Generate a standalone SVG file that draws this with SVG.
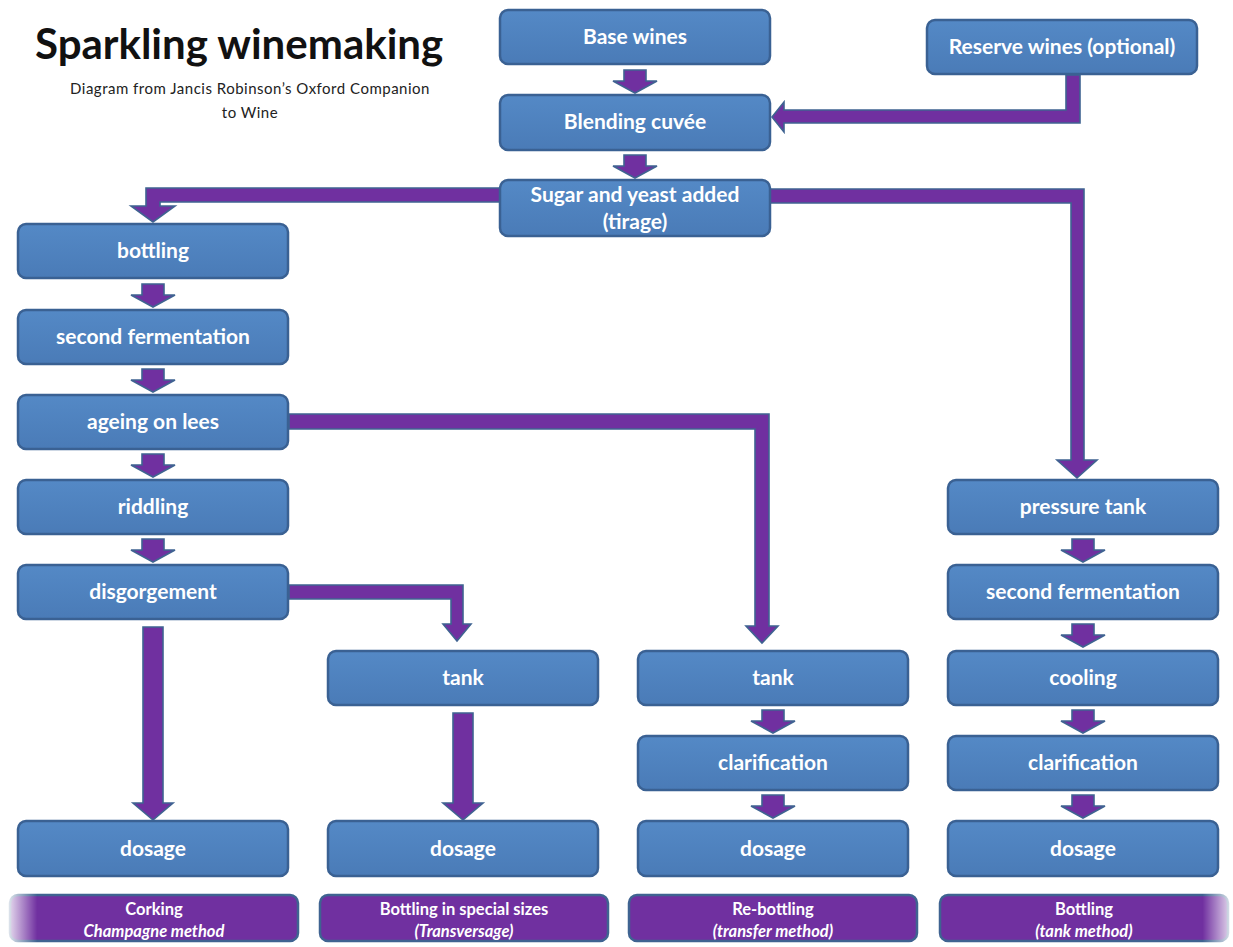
<svg xmlns="http://www.w3.org/2000/svg" width="1233" height="947" viewBox="0 0 1233 947">
<defs>
<linearGradient id="ng" x1="0" y1="0" x2="0" y2="1">
<stop offset="0" stop-color="#5489c6"/>
<stop offset="1" stop-color="#4a7bb7"/>
</linearGradient>
<linearGradient id="fadeL" x1="0" y1="0" x2="1" y2="0">
<stop offset="0" stop-color="#ffffff" stop-opacity="0.85"/>
<stop offset="0.1" stop-color="#ffffff" stop-opacity="0"/>
</linearGradient>
<linearGradient id="fadeR" x1="0" y1="0" x2="1" y2="0">
<stop offset="0.9" stop-color="#ffffff" stop-opacity="0"/>
<stop offset="1" stop-color="#ffffff" stop-opacity="0.85"/>
</linearGradient>
</defs>
<style>
.n{fill:url(#ng);stroke:#3a6193;stroke-width:2.5}
.t{fill:#ffffff;font-family:Lato,"Open Sans",sans-serif;font-weight:bold;font-size:21px;text-anchor:middle}
.b{fill:#7030a0;stroke:#3f6391;stroke-width:2.5}
.bt{fill:#ffffff;font-family:Lato,"Open Sans",sans-serif;font-weight:bold;font-size:16.5px;text-anchor:middle}
.bi{font-style:italic}
.a{fill:#7030a0;stroke:#3f6391;stroke-width:1.6;stroke-linejoin:miter}
</style>
<rect width="1233" height="947" fill="#ffffff"/>
<g id="title">
<text x="35" y="59" font-family="Lato,'Open Sans',sans-serif" font-weight="bold" font-size="42" fill="#111111">Sparkling winemaking</text>
<text x="250" y="94" font-family="Lato,'Open Sans',sans-serif" font-size="15" letter-spacing="0.5" fill="#222222" text-anchor="middle">Diagram from Jancis Robinson’s Oxford Companion</text>
<text x="250" y="118" font-family="Lato,'Open Sans',sans-serif" font-size="15" letter-spacing="0.5" fill="#222222" text-anchor="middle">to Wine</text>
</g>
<g id="connectors">
<path class="a" d="M624,70 H646 V81 H657 L635,93 L613,81 H624 Z"/>
<path class="a" d="M624,155 H646 V166 H657 L635,178 L613,166 H624 Z"/>
<path class="a" d="M142,284 H164 V295 H175 L153,307 L131,295 H142 Z"/>
<path class="a" d="M142,369 H164 V380 H175 L153,392 L131,380 H142 Z"/>
<path class="a" d="M142,454 H164 V465 H175 L153,477 L131,465 H142 Z"/>
<path class="a" d="M142,539 H164 V550 H175 L153,562 L131,550 H142 Z"/>
<path class="a" d="M1072,539 H1094 V550 H1105 L1083,562 L1061,550 H1072 Z"/>
<path class="a" d="M1072,624 H1094 V635 H1105 L1083,647 L1061,635 H1072 Z"/>
<path class="a" d="M1072,710 H1094 V721 H1105 L1083,733 L1061,721 H1072 Z"/>
<path class="a" d="M1072,795 H1094 V806 H1105 L1083,818 L1061,806 H1072 Z"/>
<path class="a" d="M762,710 H784 V721 H795 L773,733 L751,721 H762 Z"/>
<path class="a" d="M762,795 H784 V806 H795 L773,818 L751,806 H762 Z"/>
<path class="a" d="M143,627 H163 V803 H173 L153,820 L133,803 H143 Z"/>
<path class="a" d="M453,713 H473 V803 H483 L463,820 L443,803 H453 Z"/>
<path class="a" d="M1066,75 H1080 V123 H784 V132 L772,117 L784,102 V110 H1066 Z"/>
<path class="a" d="M500,188 H146 V206 H131 L153,222 L175,206 H160 V202 H500 Z"/>
<path class="a" d="M770,189 H1084 V460 H1097 L1077,478 L1057,460 H1071 V203 H770 Z"/>
<path class="a" d="M289,414 H769 V626 H778 L762,643 L746,626 H755 V429 H289 Z"/>
<path class="a" d="M289,585 H463 V624 H471 L457,641 L443,624 H451 V599 H289 Z"/>
</g>
<g id="base-wines"><rect class="n" x="500" y="10" width="270" height="54" rx="8"/><text class="t" x="635" y="44">Base wines</text></g>
<g id="reserve-wines"><rect class="n" x="927" y="20" width="270" height="54" rx="8"/><text class="t" x="1062" y="54">Reserve wines (optional)</text></g>
<g id="blending"><rect class="n" x="500" y="95" width="270" height="55" rx="8"/><text class="t" x="635" y="129">Blending cuvée</text></g>
<g id="tirage"><rect class="n" x="500" y="180" width="270" height="56" rx="8"/><text class="t" x="635" y="202">Sugar and yeast added</text><text class="t" x="635" y="229">(tirage)</text></g>
<g id="bottling"><rect class="n" x="18" y="224" width="270" height="54" rx="8"/><text class="t" x="153" y="258">bottling</text></g>
<g id="second-fermentation-1"><rect class="n" x="18" y="310" width="270" height="54" rx="8"/><text class="t" x="153" y="344">second fermentation</text></g>
<g id="ageing"><rect class="n" x="18" y="395" width="270" height="54" rx="8"/><text class="t" x="153" y="429">ageing on lees</text></g>
<g id="riddling"><rect class="n" x="18" y="480" width="270" height="54" rx="8"/><text class="t" x="153" y="514">riddling</text></g>
<g id="disgorgement"><rect class="n" x="18" y="565" width="270" height="54" rx="8"/><text class="t" x="153" y="599">disgorgement</text></g>
<g id="dosage-1"><rect class="n" x="18" y="821" width="270" height="55" rx="8"/><text class="t" x="153" y="856">dosage</text></g>
<g id="tank-2"><rect class="n" x="328" y="651" width="270" height="54" rx="8"/><text class="t" x="463" y="685">tank</text></g>
<g id="dosage-2"><rect class="n" x="328" y="821" width="270" height="55" rx="8"/><text class="t" x="463" y="856">dosage</text></g>
<g id="tank-3"><rect class="n" x="638" y="651" width="270" height="54" rx="8"/><text class="t" x="773" y="685">tank</text></g>
<g id="clarification-3"><rect class="n" x="638" y="736" width="270" height="54" rx="8"/><text class="t" x="773" y="770">clarification</text></g>
<g id="dosage-3"><rect class="n" x="638" y="821" width="270" height="55" rx="8"/><text class="t" x="773" y="856">dosage</text></g>
<g id="pressure-tank"><rect class="n" x="948" y="480" width="270" height="54" rx="8"/><text class="t" x="1083" y="514">pressure tank</text></g>
<g id="second-fermentation-4"><rect class="n" x="948" y="565" width="270" height="54" rx="8"/><text class="t" x="1083" y="599">second fermentation</text></g>
<g id="cooling"><rect class="n" x="948" y="651" width="270" height="54" rx="8"/><text class="t" x="1083" y="685">cooling</text></g>
<g id="clarification-4"><rect class="n" x="948" y="736" width="270" height="54" rx="8"/><text class="t" x="1083" y="770">clarification</text></g>
<g id="dosage-4"><rect class="n" x="948" y="821" width="270" height="55" rx="8"/><text class="t" x="1083" y="856">dosage</text></g>
<g id="champagne-method"><rect class="b" x="10" y="895" width="288" height="46" rx="8"/><rect x="8" y="893" width="292" height="50" fill="url(#fadeL)"/><text class="bt" x="154" y="915">Corking</text><text class="bt bi" x="154" y="937">Champagne method</text></g>
<g id="transversage"><rect class="b" x="320" y="895" width="288" height="46" rx="8"/><text class="bt" x="464" y="915">Bottling in special sizes</text><text class="bt bi" x="464" y="937">(Transversage)</text></g>
<g id="transfer-method"><rect class="b" x="629" y="895" width="288" height="46" rx="8"/><text class="bt" x="773" y="915">Re-bottling</text><text class="bt bi" x="773" y="937">(transfer method)</text></g>
<g id="tank-method"><rect class="b" x="940" y="895" width="288" height="46" rx="8"/><rect x="938" y="893" width="294" height="50" fill="url(#fadeR)"/><text class="bt" x="1084" y="915">Bottling</text><text class="bt bi" x="1084" y="937">(tank method)</text></g>
</svg>
